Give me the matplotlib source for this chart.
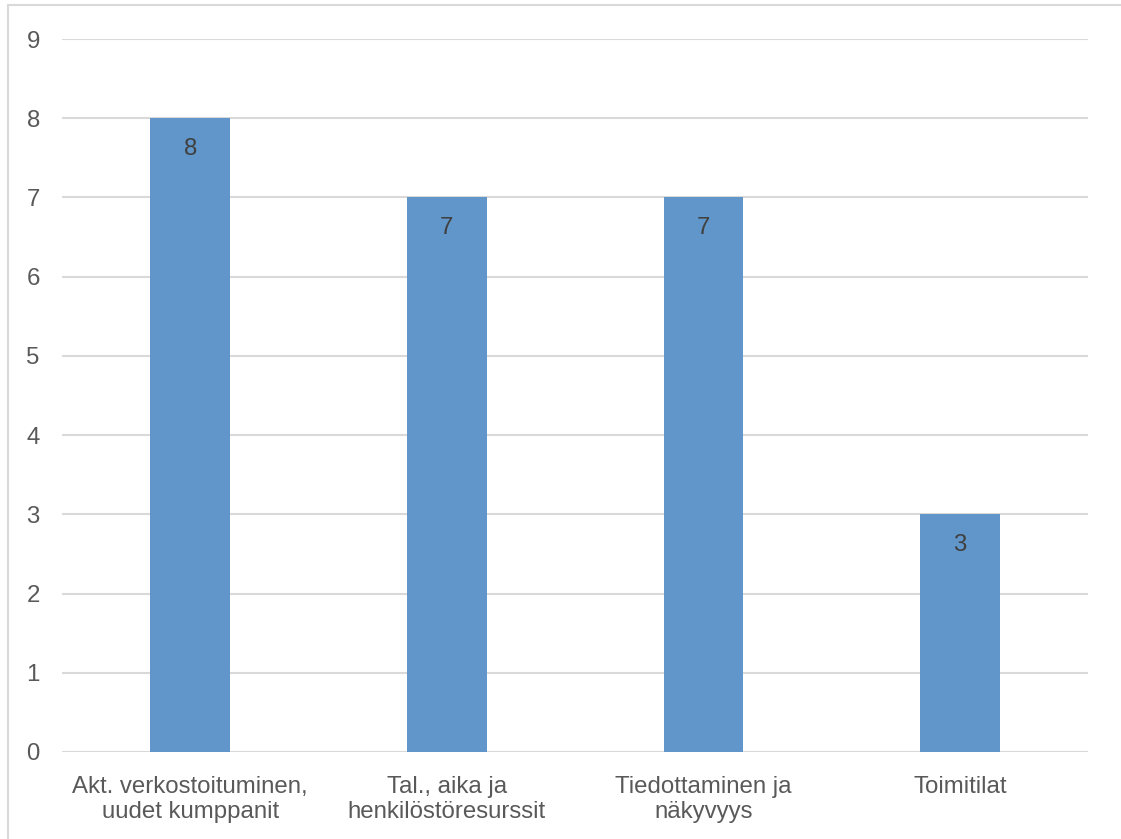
import matplotlib.pyplot as plt
from matplotlib.patches import Rectangle

categories = ['Akt. verkostoituminen,\nuudet kumppanit', 'Tal., aika ja\nhenkilöstöresurssit',
              'Tiedottaminen ja\nnäkyvyys', 'Toimitilat']
values = [8, 7, 7, 3]
yticks = list(range(0, 10))

plt.rcParams['font.family'] = ['Liberation Sans', 'DejaVu Sans']

fig = plt.figure(figsize=(11.21, 8.39), dpi=100)
ax = fig.add_axes([0.0553, 0.1037, 0.9153, 0.8498])

x = range(len(categories))
bars = ax.bar(x, values, width=0.31, color='#6096C9', zorder=2)

# value labels just inside the top of each bar
for xi, v in zip(x, values):
    ax.annotate(str(v), (xi, v), xytext=(0, -22), textcoords='offset points',
                ha='center', va='center', fontsize=17.3, color='#404040')

ax.set_xlim(-0.5, len(categories) - 0.5)
ax.set_ylim(0, 9)
ax.set_yticks(yticks)
ax.set_xticks(list(x))
ax.set_xticklabels(categories, fontsize=17.3, color='#595959', linespacing=1.22)
ax.tick_params(axis='y', labelsize=17.3, labelcolor='#595959', length=0, pad=16)
ax.tick_params(axis='x', length=0, pad=17)
ax.grid(axis='y', color='#D9D9D9', linewidth=1.5, zorder=0)
for s in ax.spines.values():
    s.set_visible(False)

# outer chart border
fig.patches.append(Rectangle((8 / 1121, -0.1), 1.2, 0.1 + (839 - 5) / 839,
                             transform=fig.transFigure, fill=False,
                             edgecolor='#D9D9D9', linewidth=1.5))

fig.savefig('out.png', dpi=100)
